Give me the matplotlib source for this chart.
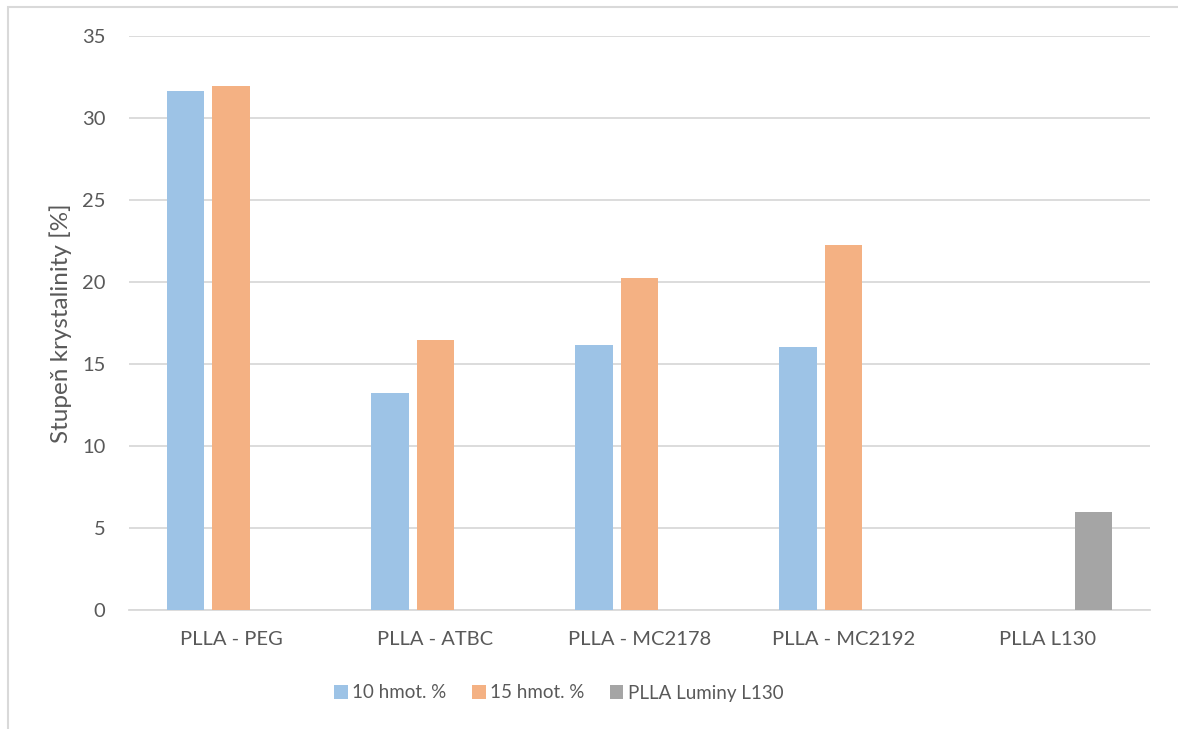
import matplotlib
matplotlib.use("Agg")
import matplotlib.pyplot as plt
import numpy as np
from matplotlib.patches import Rectangle

categories = ["PLLA - PEG", "PLLA - ATBC", "PLLA - MC2178", "PLLA - MC2192", "PLLA L130"]
series_names = ["10 hmot. %", "15 hmot. %", "PLLA Luminy L130"]
s10 = [31.65, 13.25, 16.14, 16.04, np.nan]
s15 = [31.95, 16.44, 20.24, 22.26, np.nan]
sL130 = [np.nan, np.nan, np.nan, np.nan, 5.98]
yticks = [0, 5, 10, 15, 20, 25, 30, 35]
ylabel = "Stupeň krystalinity [%]"

colors = ["#9DC3E6", "#F4B183", "#A5A5A5"]
text_color = "#595959"
grid_color = "#D9D9D9"

plt.rcParams['font.family'] = ['Lato', 'DejaVu Sans']

fig = plt.figure(figsize=(11.78, 7.29), dpi=100)
ax = fig.add_axes([129/1178, 1-610/729, (1150-129)/1178, (610-36)/729])

x = np.arange(len(categories))
width = 0.184
offset = 0.223
for i, (vals, name) in enumerate(zip([s10, s15, sL130], series_names)):
    ax.bar(x + (i-1)*offset, vals, width, color=colors[i], label=name, zorder=3)

ax.set_xlim(-0.5, len(categories)-0.5)
ax.set_ylim(0, 35)
ax.set_yticks(yticks)
ax.set_yticklabels([str(t) for t in yticks])
ax.set_xticks(x)
ax.set_xticklabels(categories)
ax.tick_params(axis='both', length=0, labelsize=14.5, colors=text_color)
ax.tick_params(axis='y', pad=17)
ax.tick_params(axis='x', pad=15)
ax.yaxis.grid(True, color=grid_color, linewidth=1.3, zorder=0)
for s in ["top", "right", "left"]:
    ax.spines[s].set_visible(False)
ax.spines["bottom"].set_color(grid_color)
ax.spines["bottom"].set_linewidth(1.3)
ax.set_ylabel(ylabel, fontsize=17.5, color=text_color)
ax.yaxis.set_label_coords(-(129-72)/(1150-129), 0.5)

handles, labels = ax.get_legend_handles_labels()
leg = fig.legend(handles, labels, loc="center", bbox_to_anchor=(559/1178, 1-693/729), ncol=3,
                 frameon=False, fontsize=13.5, handlelength=0.72, handleheight=0.72,
                 handletextpad=0.25, columnspacing=1.35, labelcolor=text_color)

fig.patches.append(Rectangle((8/1178, -0.1), 1.2, 1-7/729+0.1, transform=fig.transFigure,
                             fill=False, edgecolor=grid_color, linewidth=1.5))

fig.savefig("out.png", dpi=100, facecolor="white")
